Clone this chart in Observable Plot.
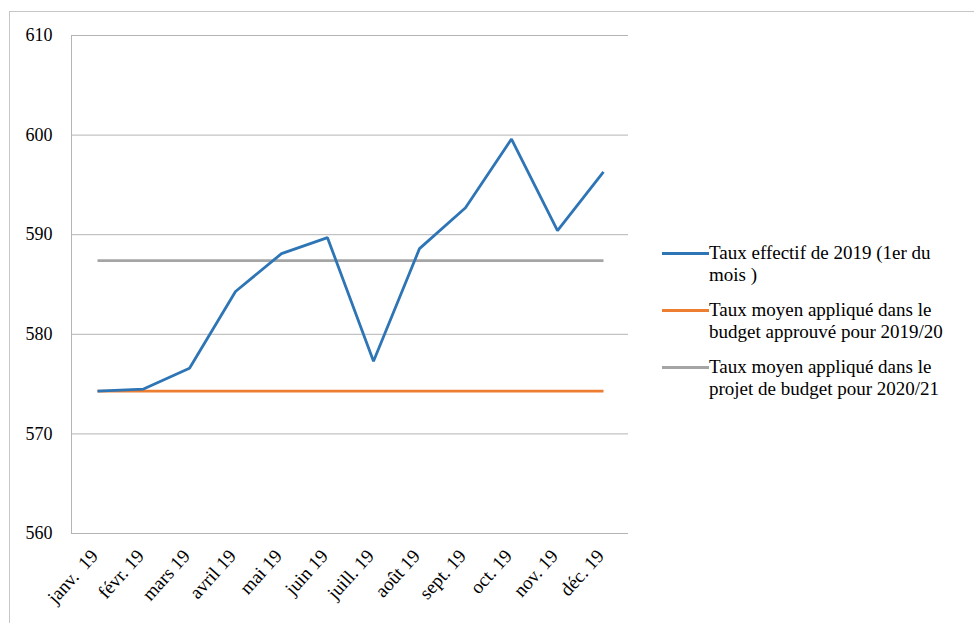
<!DOCTYPE html>
<html><head><meta charset="utf-8">
<script src="https://cdn.jsdelivr.net/npm/d3@7"></script>
<script src="https://cdn.jsdelivr.net/npm/@observablehq/plot@0.6"></script>
<style>
body{margin:0;background:#fff;font-family:'Liberation Serif',serif;}
#wrap{position:relative;width:974px;height:623px;overflow:hidden}
#frame{position:absolute;left:9px;top:11px;width:980px;height:640px;border:1px solid #c6c6c6;pointer-events:none}
#chart{position:absolute;left:0;top:0}
#legend{position:absolute;left:662px;top:242px;}
.item{display:flex;align-items:flex-start;margin-bottom:13px}
.sw{width:47px;height:3px;margin-top:10px;flex:none}
.lab{font-size:19px;line-height:22px;width:245px;color:#000}
svg text{font-family:'Liberation Serif',serif}
</style></head>
<body>
<div id="wrap"><div id="chart"></div><div id="frame"></div><div id="legend"></div></div>
<script>
const months = ["janv.  19","févr. 19","mars 19","avril 19","mai 19","juin 19","juill. 19","août 19","sept. 19","oct. 19","nov. 19","déc. 19"];
const rate2019 = [574.3, 574.5, 576.6, 584.3, 588.1, 589.7, 577.3, 588.6, 592.7, 599.6, 590.4, 596.3];
const approvedRate = 574.3;
const proposedRate = 587.4;
const seriesNames = [
  "Taux effectif de 2019 (1er du mois )",
  "Taux moyen appliqué dans le budget approuvé pour 2019/20",
  "Taux moyen appliqué dans le projet de budget pour 2020/21"
];
const seriesColors = ["#2e75b6", "#ed7d31", "#a5a5a5"];
const yTicks = [560, 570, 580, 590, 600, 610];

const rows = [];
months.forEach((m) => rows.push({month: m, value: proposedRate, series: seriesNames[2]}));
months.forEach((m) => rows.push({month: m, value: approvedRate, series: seriesNames[1]}));
months.forEach((m, i) => rows.push({month: m, value: rate2019[i], series: seriesNames[0]}));

const chart = Plot.plot({
  width: 974,
  height: 623,
  marginLeft: 71,
  marginRight: 346,
  marginTop: 35,
  marginBottom: 90,
  style: {fontFamily: "'Liberation Serif', serif", background: "transparent", color: "#000"},
  x: {type: "point", domain: months, padding: 0.5},
  y: {domain: [560, 610]},
  color: {domain: seriesNames, range: seriesColors},
  marks: [
    Plot.ruleY(yTicks, {stroke: "#b4b4b4", strokeWidth: 1}),
    Plot.frame({anchor: "left", stroke: "#b4b4b4"}),
    Plot.axisY({ticks: yTicks, tickSize: 0, tickPadding: 19, fontSize: 18, label: null}),
    Plot.axisX({tickRotate: -48, tickSize: 0, tickPadding: 19, fontSize: 19, label: null, dx: -3, style: {whiteSpace: "pre"}}),
    Plot.line(rows, {x: "month", y: "value", z: "series", stroke: "series", strokeWidth: 2.8, strokeLinejoin: "miter", strokeLinecap: "butt"})
  ]
});
document.getElementById("chart").appendChild(chart);

const legend = document.getElementById("legend");
seriesNames.forEach((name, i) => {
  const item = document.createElement("div");
  item.className = "item";
  const sw = document.createElement("div");
  sw.className = "sw";
  sw.style.background = seriesColors[i];
  const lab = document.createElement("div");
  lab.className = "lab";
  lab.textContent = name;
  item.appendChild(sw); item.appendChild(lab);
  legend.appendChild(item);
});
</script>
</body></html>
